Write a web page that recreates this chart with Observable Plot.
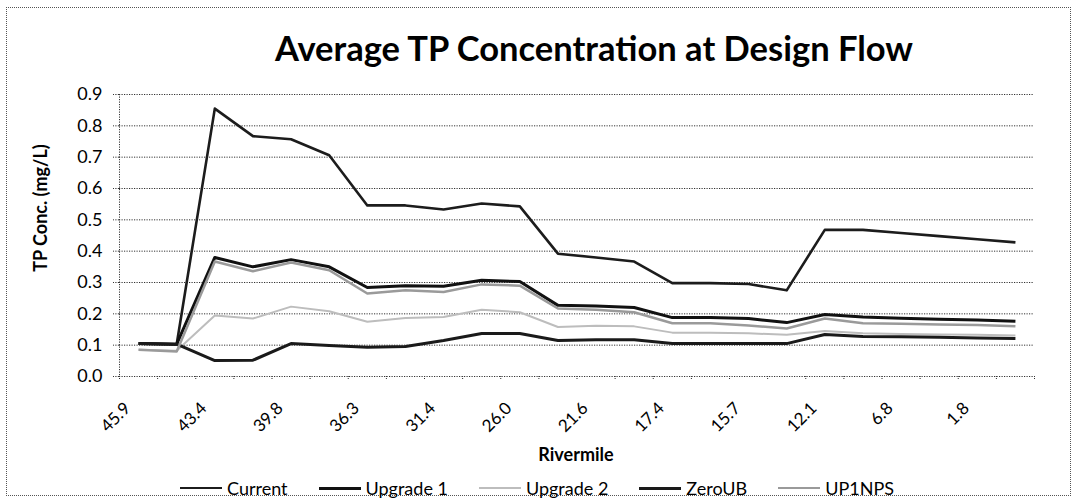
<!DOCTYPE html>
<html><head><meta charset="utf-8">
<script src="https://cdn.jsdelivr.net/npm/d3@7"></script>
<script src="https://cdn.jsdelivr.net/npm/@observablehq/plot@0.6"></script>
<style>
html,body{margin:0;padding:0;background:#fff;}
#wrap{position:relative;width:1073px;height:502px;overflow:hidden;font-family:Lato,sans-serif;color:#000;}
#frame{position:absolute;left:6px;top:7px;width:1065px;height:489px;border:1px dotted #555;box-sizing:border-box;}
#title{position:absolute;left:0;width:1188px;top:31px;text-align:center;font-weight:bold;font-size:34.5px;line-height:34.5px;white-space:nowrap;}
#ytitle{position:absolute;left:39.5px;top:208px;transform:translate(-50%,-50%) rotate(-90deg);font-weight:bold;font-size:18px;white-space:nowrap;}
#xtitle{position:absolute;left:576px;top:454px;transform:translate(-50%,-50%);font-weight:bold;font-size:18px;white-space:nowrap;}
#chart{position:absolute;left:0;top:76px;}
#legend{position:absolute;left:180px;top:477px;height:22px;display:flex;align-items:center;font-size:18px;white-space:nowrap;}
#legend .item{display:flex;align-items:center;margin-right:31px;}
#legend .sw{display:inline-block;width:42px;margin-right:5px;}
</style></head>
<body>
<div id="wrap">
  <div id="frame"></div>
  <div id="title">Average TP Concentration at Design Flow</div>
  <div id="ytitle">TP Conc. (mg/L)</div>
  <div id="chart"></div>
  <div id="xtitle">Rivermile</div>
  <div id="legend"></div>
</div>
<script>
// Tick labels (every other category of 24 rivermile stations)
const tickLabels = ["45.9","43.4","39.8","36.3","31.4","26.0","21.6","17.4","15.7","12.1","6.8","1.8"];
const yTicks = [0,0.1,0.2,0.3,0.4,0.5,0.6,0.7,0.8,0.9];
const seriesNames = ["Current","Upgrade 1","Upgrade 2","ZeroUB","UP1NPS"];

const current  = [0.105,0.103,0.855,0.767,0.757,0.706,0.546,0.546,0.533,0.552,0.543,0.392,0.380,0.367,0.298,0.298,0.295,0.275,0.468,0.468,0.458,0.448,0.438,0.428];
const upgrade1 = [0.105,0.103,0.380,0.350,0.373,0.350,0.284,0.290,0.288,0.307,0.303,0.227,0.225,0.220,0.188,0.188,0.185,0.172,0.198,0.190,0.186,0.183,0.180,0.176];
const upgrade2 = [0.085,0.082,0.195,0.185,0.223,0.208,0.175,0.187,0.190,0.213,0.205,0.158,0.162,0.160,0.140,0.140,0.138,0.133,0.145,0.138,0.136,0.134,0.133,0.131];
const zeroUB   = [0.105,0.103,0.051,0.052,0.105,0.099,0.093,0.096,0.115,0.137,0.137,0.115,0.117,0.117,0.105,0.105,0.105,0.105,0.134,0.128,0.127,0.125,0.123,0.121];
const up1nps   = [0.085,0.080,0.367,0.336,0.364,0.339,0.265,0.275,0.270,0.294,0.290,0.217,0.213,0.205,0.170,0.170,0.163,0.153,0.185,0.170,0.168,0.166,0.164,0.160];

const seriesValues = [current, upgrade1, upgrade2, zeroUB, up1nps];
const styles = [
  {stroke:"#1c1c1c", width:2.6},
  {stroke:"#111111", width:3},
  {stroke:"#bdbdbd", width:2},
  {stroke:"#1a1a1a", width:3},
  {stroke:"#9a9a9a", width:2.5}
];

const nCat = current.length;
const boundaries = d3.range(nCat + 1).map(k => k - 0.5);
const labelIdx = tickLabels.map((_, j) => j * 2);
const dots = "1.2,1.3";

const marks = [
  Plot.ruleY(yTicks.slice(1), {stroke:"#333", strokeDasharray:dots, strokeWidth:1}),
  Plot.axisY({ticks: yTicks, tickSize: 6, tickPadding: 11, tickFormat: d3.format(".1f"), label: null, stroke:"#333", strokeDasharray:dots, fontSize: 18}),
  Plot.axisX({ticks: boundaries, tickSize: 4, tickFormat: () => "", label: null, stroke:"#333", strokeDasharray:"1,1"}),
  Plot.axisX({ticks: labelIdx, tickSize: 0, tickPadding: 0, tickRotate: -45, tickFormat: i => tickLabels[i / 2], label: null, fontSize: 17, dx: -11, dy: 29}),
  Plot.ruleY([0], {stroke:"#333", strokeDasharray:dots, strokeWidth:1}),
  Plot.ruleX([-0.5], {stroke:"#333", strokeDasharray:dots, strokeWidth:1})
];
seriesValues.forEach((vals, s) => {
  marks.push(Plot.line(vals, {x: (d, i) => i, y: d => d, stroke: styles[s].stroke, strokeWidth: styles[s].width, strokeLinejoin: "round", strokeLinecap: "butt"}));
});

const chart = Plot.plot({
  width: 1073, height: 400,
  marginLeft: 119, marginRight: 39, marginTop: 18, marginBottom: 100,
  style: {fontFamily: "Lato, sans-serif", fontSize: "18px", color: "#000", background: "transparent", overflow: "visible"},
  x: {type: "linear", domain: [-0.5, nCat - 0.5]},
  y: {type: "linear", domain: [0, 0.9]},
  marks
});
document.getElementById("chart").appendChild(chart);

const legend = document.getElementById("legend");
seriesNames.forEach((name, s) => {
  const item = document.createElement("span");
  item.className = "item";
  const sw = document.createElement("span");
  sw.className = "sw";
  sw.style.borderTop = styles[s].width + "px solid " + styles[s].stroke;
  item.appendChild(sw);
  const t = document.createElement("span");
  t.textContent = name;
  item.appendChild(t);
  legend.appendChild(item);
});
</script>
</body></html>
